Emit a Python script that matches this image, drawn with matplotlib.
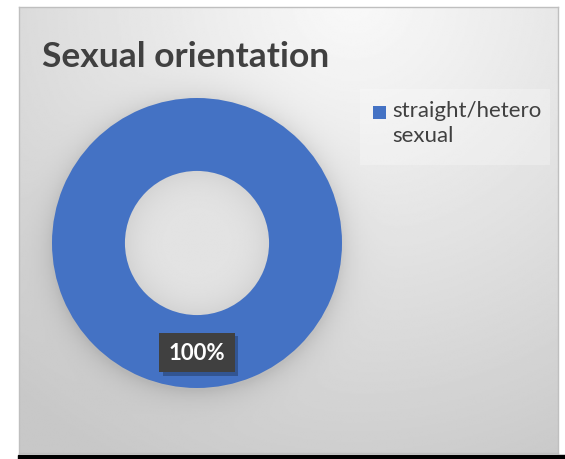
import numpy as np
import matplotlib
matplotlib.use("Agg")
import matplotlib.pyplot as plt
import matplotlib.patheffects as pe
from matplotlib.patches import Rectangle

title = "Sexual orientation"
categories = ["straight/hetero\nsexual"]
values = [100]
labels = ["100%"]
colors = ["#4472C4"]

W, H = 565, 460
fig = plt.figure(figsize=(W / 100, H / 100), dpi=100)
fig.patch.set_facecolor("white")

# background panel with gradient
px0, py0, px1, py1 = 19, 8, 558, 454
bg = fig.add_axes([px0 / W, 1 - py1 / H, (px1 - px0) / W, (py1 - py0) / H])
yy, xx = np.mgrid[0:1:300j, 0:1:300j]
d = np.sqrt(((xx - 0.62) * 1.2) ** 2 + (yy - 1.02) ** 2)
g = 0.975 - 0.19 * np.clip(d / 1.15, 0, 1) ** 1.1
# donut shadow halo
cx, cy, r = 197, 244, 145
sx = (xx * (px1 - px0) + px0)
sy = ((1 - yy) * (py1 - py0) + py0)
rr = np.sqrt((sx - cx) ** 2 + (sy - cy - 3) ** 2)
halo = np.exp(-np.clip(rr - r, 0, None) / 12.0) * (rr > r - 5)
g = g - 0.10 * halo
bg.imshow(g, cmap="gray", vmin=0, vmax=1, extent=[0, 1, 0, 1], origin="lower",
          aspect="auto", interpolation="bilinear")
bg.set_xlim(0, 1); bg.set_ylim(0, 1)
for s in bg.spines.values():
    s.set_color("#bfbfbf"); s.set_linewidth(1.0)
bg.set_xticks([]); bg.set_yticks([])

# bottom black line
line_ax = fig.add_axes([0, 0, 1, 1], facecolor="none")
line_ax.set_xlim(0, W); line_ax.set_ylim(H, 0)
line_ax.axis("off")
line_ax.add_patch(Rectangle((18, 456), 547, 4, color="black"))

# donut
ax = fig.add_axes([(cx - r) / W, 1 - (cy + r) / H, 2 * r / W, 2 * r / H])
ax.set_facecolor("none")
hole_r = 0.5
hy, hx = np.mgrid[-1:1:200j, -1:1:200j]
hd = np.sqrt(hx ** 2 + hy ** 2)
hv = 0.89 - 0.06 * np.clip(hd, 0, 1) ** 4
hole = ax.imshow(hv, cmap="gray", vmin=0, vmax=1, extent=[-hole_r, hole_r, -hole_r, hole_r],
                 origin="lower", interpolation="bilinear", zorder=0)
clip = plt.Circle((0, 0), hole_r, transform=ax.transData)
hole.set_clip_path(clip)
wedges, _ = ax.pie(values, colors=colors, startangle=90, counterclock=False, radius=1.0,
                   wedgeprops=dict(width=0.503, edgecolor="none"))
ax.set_xlim(-1, 1); ax.set_ylim(-1, 1)
ax.set_aspect("equal")
ax.axis("off")
lbl = ax.text(0, -0.755, labels[0], ha="center", va="center", color="white", fontsize=16,
              fontweight="bold", family="Lato",
              bbox=dict(boxstyle="square,pad=0.42", fc="#404040", ec="none"))
lbl.get_bbox_patch().set_path_effects([
    pe.SimplePatchShadow(offset=(2.5, -2.5), shadow_rgbFace="black", alpha=0.25),
    pe.Normal()])

# title
fig.text(42 / W, 1 - 57 / H, title, ha="left", va="center", fontsize=25.5, fontweight="bold",
         color="#404040", family="Lato")

# legend
lg = fig.add_axes([0, 0, 1, 1], facecolor="none")
lg.set_xlim(0, W); lg.set_ylim(H, 0); lg.axis("off")
lg.add_patch(Rectangle((360, 90), 190, 76, color="white", alpha=0.25, lw=0))
lg.add_patch(Rectangle((373, 107), 13, 13, color=colors[0], lw=0))
lg.text(392, 101, categories[0], ha="left", va="top", fontsize=16, color="#404040",
        family="Lato", linespacing=1.3)

fig.savefig("out.png", dpi=100)
